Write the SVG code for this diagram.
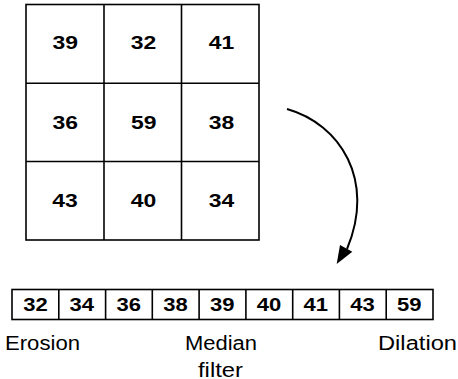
<svg xmlns="http://www.w3.org/2000/svg" width="458" height="379" viewBox="0 0 458 379">
<style>
.cell{fill:#fff;stroke:#000;stroke-width:1.6}
.num{font-family:"Liberation Sans",Arial,sans-serif;font-weight:bold;font-size:19px;text-anchor:middle;fill:#000}
.lbl{font-family:"Liberation Sans",Arial,sans-serif;font-size:20px;text-anchor:middle;fill:#000}
.conn{fill:none;stroke:#000;stroke-width:2}
</style>
<g id="grid">
<rect class="cell" x="26" y="4.5" width="233" height="235.5"/>
<line class="cell" x1="104" y1="4.5" x2="104" y2="240"/>
<line class="cell" x1="181.5" y1="4.5" x2="181.5" y2="240"/>
<line class="cell" x1="26" y1="83.3" x2="259" y2="83.3"/>
<line class="cell" x1="26" y1="161.5" x2="259" y2="161.5"/>
<text class="num" x="65.3" y="48.5" textLength="25.5" lengthAdjust="spacingAndGlyphs">39</text>
<text class="num" x="143.5" y="48.5" textLength="25.5" lengthAdjust="spacingAndGlyphs">32</text>
<text class="num" x="221.5" y="48.5" textLength="25.5" lengthAdjust="spacingAndGlyphs">41</text>
<text class="num" x="65.3" y="129" textLength="25.5" lengthAdjust="spacingAndGlyphs">36</text>
<text class="num" x="143.8" y="129" textLength="25.5" lengthAdjust="spacingAndGlyphs">59</text>
<text class="num" x="221.5" y="129" textLength="25.5" lengthAdjust="spacingAndGlyphs">38</text>
<text class="num" x="65" y="207.3" textLength="25.5" lengthAdjust="spacingAndGlyphs">43</text>
<text class="num" x="143.5" y="207.3" textLength="25.5" lengthAdjust="spacingAndGlyphs">40</text>
<text class="num" x="221.5" y="207.3" textLength="25.5" lengthAdjust="spacingAndGlyphs">34</text>
</g>
<g id="sorted">
<rect class="cell" x="12" y="289.5" width="421" height="30"/>
<line class="cell" x1="58.8" y1="289.5" x2="58.8" y2="319.5"/>
<line class="cell" x1="105.6" y1="289.5" x2="105.6" y2="319.5"/>
<line class="cell" x1="152.3" y1="289.5" x2="152.3" y2="319.5"/>
<line class="cell" x1="199.1" y1="289.5" x2="199.1" y2="319.5"/>
<line class="cell" x1="245.9" y1="289.5" x2="245.9" y2="319.5"/>
<line class="cell" x1="292.7" y1="289.5" x2="292.7" y2="319.5"/>
<line class="cell" x1="339.4" y1="289.5" x2="339.4" y2="319.5"/>
<line class="cell" x1="386.2" y1="289.5" x2="386.2" y2="319.5"/>
<text class="num" x="35.5" y="311" textLength="24.5" lengthAdjust="spacingAndGlyphs">32</text>
<text class="num" x="81.8" y="311" textLength="24.5" lengthAdjust="spacingAndGlyphs">34</text>
<text class="num" x="128.8" y="311" textLength="24.5" lengthAdjust="spacingAndGlyphs">36</text>
<text class="num" x="175.5" y="311" textLength="24.5" lengthAdjust="spacingAndGlyphs">38</text>
<text class="num" x="222.3" y="311" textLength="24.5" lengthAdjust="spacingAndGlyphs">39</text>
<text class="num" x="269" y="311" textLength="24.5" lengthAdjust="spacingAndGlyphs">40</text>
<text class="num" x="315.7" y="311" textLength="24.5" lengthAdjust="spacingAndGlyphs">41</text>
<text class="num" x="362.5" y="311" textLength="24.5" lengthAdjust="spacingAndGlyphs">43</text>
<text class="num" x="409.3" y="311" textLength="24.5" lengthAdjust="spacingAndGlyphs">59</text>
</g>
<g id="labels">
<text class="lbl" x="42.5" y="350" textLength="75" lengthAdjust="spacingAndGlyphs">Erosion</text>
<text class="lbl" x="221" y="350" textLength="72" lengthAdjust="spacingAndGlyphs">Median</text>
<text class="lbl" x="220.5" y="376.5" textLength="45" lengthAdjust="spacingAndGlyphs">filter</text>
<text class="lbl" x="417.5" y="350" textLength="79" lengthAdjust="spacingAndGlyphs">Dilation</text>
</g>
<g id="connectors">
<path class="conn" d="M287,109 C340,124 376,180 347,249"/>
<polygon points="336.7,264 340,245 352.3,251.7" fill="#000"/>
</g>
</svg>
